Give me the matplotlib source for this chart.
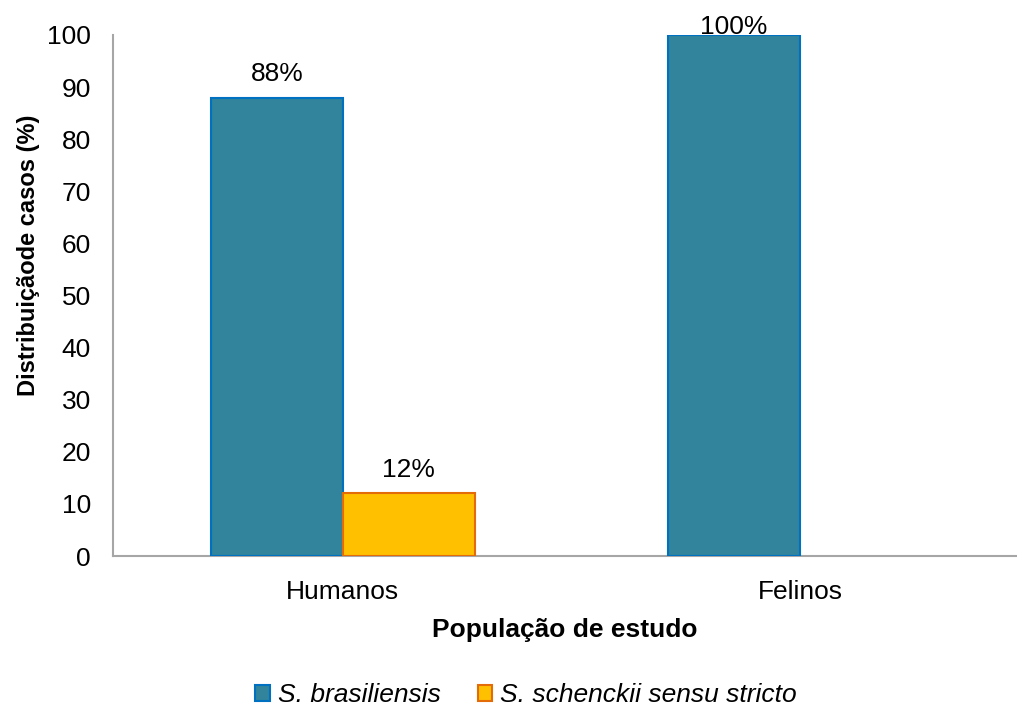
import matplotlib
matplotlib.use("Agg")
import matplotlib.pyplot as plt
import numpy as np
from matplotlib.patches import Patch

plt.rcParams['font.family'] = ['Liberation Sans', 'DejaVu Sans']

categories = ["Humanos", "Felinos"]
series_names = ["S. brasiliensis", "S. schenckii sensu stricto"]
brasiliensis = [88, 100]
schenckii = [12, None]

fill_colors = ["#31849B", "#FFC000"]
edge_colors = ["#0070C0", "#E36C09"]

fig = plt.figure(figsize=(10.17, 7.09), dpi=100)
ax = fig.add_axes([113 / 1017, (709 - 556) / 709, 1 - 113 / 1017, (556 - 35) / 709])

x = np.arange(len(categories))
width = 0.289
offsets = [-width / 2, width / 2]

for vals, off, fc, ec in zip([brasiliensis, schenckii], offsets, fill_colors, edge_colors):
    for xi, v in zip(x, vals):
        if v is None:
            continue
        ax.bar(xi + off, v, width=width, color=fc, edgecolor=ec, linewidth=1.5, zorder=3)
        dy = 17 if v < 100 else 6
        ax.annotate(f"{v}%", (xi + off, v), xytext=(0, dy), textcoords="offset points",
                    ha="center", va="center", fontsize=19, color="black",
                    annotation_clip=False, zorder=4)

ax.set_xlim(-0.503, 1.475)
ax.set_ylim(0, 100)
ax.set_yticks(np.arange(0, 101, 10))
ax.set_xticks(x)
ax.set_xticklabels(categories)
ax.tick_params(axis='both', length=0, labelsize=19)
ax.tick_params(axis='y', pad=16)
ax.tick_params(axis='x', pad=17)

for side in ["top", "right"]:
    ax.spines[side].set_visible(False)
for side in ["left", "bottom"]:
    ax.spines[side].set_color("#A6A6A6")
    ax.spines[side].set_linewidth(1.5)

ax.set_ylabel("Distribuiçãode casos (%)", fontsize=17, fontweight="bold")
ax.yaxis.set_label_coords(-0.0805, 0.578)
ax.set_xlabel("População de estudo", fontsize=19, fontweight="bold", labelpad=10)

handles = [Patch(facecolor=fc, edgecolor=ec, linewidth=1.5) for fc, ec in zip(fill_colors, edge_colors)]
fig.legend(handles, series_names, loc="center", bbox_to_anchor=(526 / 1017, 1 - 695 / 709),
           ncol=2, frameon=False, prop={"size": 19, "style": "italic"},
           handlelength=0.55, handleheight=0.55, handletextpad=0.3, columnspacing=1.4)

fig.savefig("out.png", dpi=100)
